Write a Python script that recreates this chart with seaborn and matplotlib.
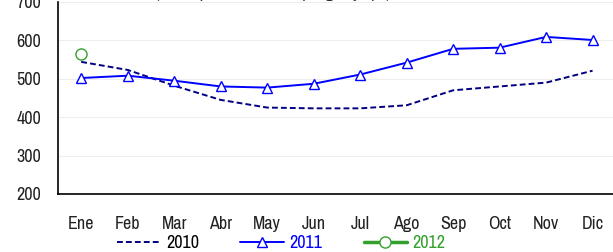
import matplotlib
matplotlib.use("Agg")
import matplotlib.pyplot as plt
import seaborn as sns
import pandas as pd

meses = ["Ene", "Feb", "Mar", "Abr", "May", "Jun", "Jul", "Ago", "Sep", "Oct", "Nov", "Dic"]
v2010 = [544, 523, 482, 445, 425, 423, 423, 431, 470, 480, 490, 521]
v2011 = [502, 508, 495, 480, 477, 487, 511, 542, 578, 581, 609, 601]
v2012 = [564]

sns.set_style("white")
plt.rcParams["font.family"] = ["Archivo Narrow", "Roboto Condensed", "DejaVu Sans"]

df = pd.concat([
    pd.DataFrame({"mes": meses, "valor": v2010, "serie": "2010"}),
    pd.DataFrame({"mes": meses, "valor": v2011, "serie": "2011"}),
    pd.DataFrame({"mes": meses[:len(v2012)], "valor": v2012, "serie": "2012"}),
])
df["x"] = df["mes"].map({m: i for i, m in enumerate(meses)})

fig = plt.figure(figsize=(6.13, 2.52), dpi=100)
ax = fig.add_axes([0.0946, 0.2302, 0.910, 0.762])

estilos = {
    "2010": dict(color="#000080", linestyle=(0, (3, 1.6)), marker=None, lw=1.4, ms=6),
    "2011": dict(color="#0000FF", linestyle="-", marker="^", lw=1.4, ms=7),
    "2012": dict(color="#33A02C", linestyle="-", marker="o", lw=2.5, ms=8),
}
for serie, st in estilos.items():
    d = df[df["serie"] == serie]
    sns.lineplot(data=d, x="x", y="valor", ax=ax, color=st["color"],
                 linestyle=st["linestyle"], marker=st["marker"],
                 markersize=st["ms"], markerfacecolor="white",
                 markeredgecolor=st["color"], markeredgewidth=1,
                 linewidth=st["lw"], label=serie, legend=False)

ax.set_xlim(-0.5, 11.5)
ax.set_ylim(200, 700)
ax.set_yticks(range(200, 701, 100))
ax.set_xticks([i + 0.5 for i in range(-1, 11)])
ax.set_xticklabels([])
ax.set_xticks(range(12), minor=True)
ax.set_xticklabels(meses, minor=True)
ax.tick_params(axis="x", which="major", length=4, color="#aaaaaa", direction="out")
ax.tick_params(axis="x", which="minor", length=0, pad=16, labelsize=13, labelcolor="#222222")
ax.tick_params(axis="y", length=4, color="#aaaaaa", direction="out", labelsize=13,
               pad=8, labelcolor="#222222")
ax.grid(axis="y", color="#eeeeee", linewidth=0.8)
ax.set_xlabel("")
ax.set_ylabel("")
for s in ["top", "right"]:
    ax.spines[s].set_visible(False)
for s in ["left", "bottom"]:
    ax.spines[s].set_color("black")
    ax.spines[s].set_linewidth(1.2)

# title sits above the visible area, only its descenders show
fig.text(0.445, 1.009, "(miles, promedio anual, por giro y tipo)", ha="center",
         va="baseline", fontsize=12, color="#333333")

handles = [ax.lines[0], ax.lines[1], ax.lines[2]]
leg = fig.legend(handles, ["2010", "2011", "2012"], loc="center",
                 bbox_to_anchor=(0.459, 0.036), ncol=3, frameon=False,
                 handlelength=2.4, columnspacing=2.3, handletextpad=0.3,
                 prop={"weight": "bold", "size": 13})
for t, c in zip(leg.get_texts(), ["black", "#0000FF", "#33A02C"]):
    t.set_color(c)

fig.savefig("out.png", dpi=100)
